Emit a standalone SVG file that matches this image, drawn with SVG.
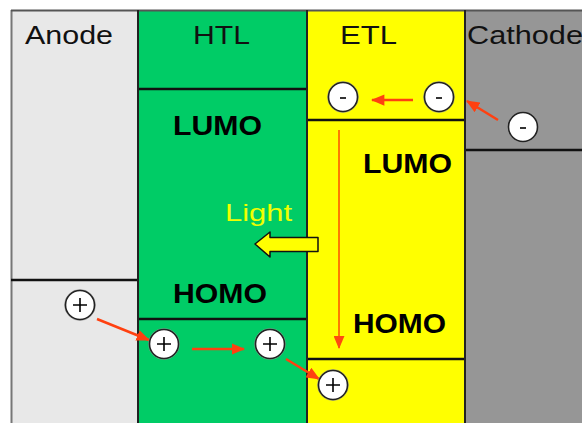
<svg xmlns="http://www.w3.org/2000/svg" width="582" height="423" viewBox="0 0 582 423">
<defs>
<style>
.lbl{font-family:"Liberation Sans",Arial,sans-serif;font-size:26px;fill:#111}
.lvl{font-family:"Liberation Sans",Arial,sans-serif;font-size:27px;font-weight:bold;fill:#000}
.light{font-family:"Liberation Sans",Arial,sans-serif;font-size:24px;fill:#f0ff00}
.div{stroke:#111;stroke-width:2.5}
.vdiv{stroke:#222;stroke-width:2}
.car{fill:#fff;stroke:#222;stroke-width:1.6}
.halo{fill:none;stroke:#999;stroke-width:1;opacity:0.7}
.sign{stroke:#000;stroke-width:1.6;fill:none}
.arr{stroke:#ff4010;stroke-width:2.5;fill:none;marker-end:url(#ah)}
.varr{stroke:#ff7a00;stroke-width:2;fill:none;marker-end:url(#ah2)}
</style>
<marker id="ah" viewBox="0 0 12 10" refX="11" refY="5" markerWidth="5.5" markerHeight="4.5" markerUnits="strokeWidth" orient="auto">
<path d="M0,0 L12,5 L0,10 z" fill="#ff4010"/>
</marker>
<marker id="ah2" viewBox="0 0 12 10" refX="11" refY="5" markerWidth="7" markerHeight="5.5" markerUnits="strokeWidth" orient="auto">
<path d="M0,0 L12,5 L0,10 z" fill="#ff4a10"/>
</marker>
</defs>
<rect width="582" height="423" fill="#fff"/>

<g id="anode">
<rect x="11" y="10" width="127" height="413" fill="#e8e8e8"/>
<line x1="11.5" y1="10" x2="11.5" y2="423" stroke="#777" stroke-width="2"/>
<line class="div" x1="11" y1="280" x2="138" y2="280"/>
<text class="lbl" x="25" y="44" textLength="88" lengthAdjust="spacingAndGlyphs">Anode</text>
</g>

<g id="htl">
<rect x="138" y="10" width="169" height="413" fill="#00cc66"/>
<line class="div" x1="138" y1="89" x2="307" y2="89"/>
<line class="div" x1="138" y1="319" x2="307" y2="319"/>
<text class="lbl" x="193" y="44" textLength="57" lengthAdjust="spacingAndGlyphs">HTL</text>
<text class="lvl" x="173" y="135" textLength="89" lengthAdjust="spacingAndGlyphs">LUMO</text>
<text class="lvl" x="173" y="303" textLength="94" lengthAdjust="spacingAndGlyphs">HOMO</text>
</g>

<g id="etl">
<rect x="307" y="10" width="158" height="413" fill="#ffff00"/>
<line class="div" x1="307" y1="120" x2="465" y2="120"/>
<line class="div" x1="307" y1="359" x2="465" y2="359"/>
<text class="lbl" x="340" y="44" textLength="57" lengthAdjust="spacingAndGlyphs">ETL</text>
<text class="lvl" x="363" y="173" textLength="89" lengthAdjust="spacingAndGlyphs">LUMO</text>
<text class="lvl" x="353" y="333" textLength="93" lengthAdjust="spacingAndGlyphs">HOMO</text>
</g>

<g id="cathode">
<rect x="465" y="10" width="117" height="413" fill="#969696"/>
<line class="div" x1="465" y1="150" x2="582" y2="150"/>
<text class="lbl" x="467" y="44" textLength="116" lengthAdjust="spacingAndGlyphs">Cathode</text>
</g>

<g id="borders">
<line x1="11" y1="10.5" x2="582" y2="10.5" stroke="#555" stroke-width="2"/>
<line class="vdiv" x1="138" y1="10" x2="138" y2="423" stroke="#444"/>
<line class="vdiv" x1="307" y1="10" x2="307" y2="423"/>
<line class="vdiv" x1="465" y1="10" x2="465" y2="423"/>
</g>

<g id="light">
<text class="light" x="225" y="221" textLength="67" lengthAdjust="spacingAndGlyphs">Light</text>
<path d="M255,244 L270,232 L270,237.5 L318,237.5 L318,251.5 L270,251.5 L270,257 Z" fill="#ffff00" stroke="#111" stroke-width="1.5" stroke-linejoin="round"/>
</g>

<g id="connectors">
<line class="arr" x1="413" y1="100" x2="372" y2="100"/>
<line class="arr" x1="498" y1="120" x2="467" y2="101"/>
<line class="varr" x1="339" y1="130" x2="339" y2="348"/>
<line class="arr" x1="97" y1="319" x2="149" y2="340"/>
<line class="arr" x1="192" y1="349" x2="244" y2="349"/>
<line class="arr" x1="286" y1="359" x2="319" y2="379"/>
</g>

<g id="e1"><circle class="halo" cx="343" cy="97" r="15.5"/><circle class="car" cx="343" cy="97" r="14.5"/><line class="sign" x1="340" y1="98" x2="346" y2="98"/></g>
<g id="e2"><circle class="halo" cx="439" cy="97" r="15.5"/><circle class="car" cx="439" cy="97" r="14.5"/><line class="sign" x1="436" y1="98" x2="442" y2="98"/></g>
<g id="e3"><circle class="halo" cx="523" cy="127" r="15.5"/><circle class="car" cx="523" cy="127" r="14.5"/><line class="sign" x1="520" y1="128" x2="526" y2="128"/></g>

<g id="h1"><circle class="halo" cx="80" cy="305" r="15.5"/><circle class="car" cx="80" cy="305" r="14.5"/><path class="sign" d="M73,305 H87 M80,298 V312"/></g>
<g id="h2"><circle class="halo" cx="164" cy="344" r="15.5"/><circle class="car" cx="164" cy="344" r="14.5"/><path class="sign" d="M157,344 H171 M164,337 V351"/></g>
<g id="h3"><circle class="halo" cx="270" cy="344" r="15.5"/><circle class="car" cx="270" cy="344" r="14.5"/><path class="sign" d="M263,344 H277 M270,337 V351"/></g>
<g id="h4"><circle class="halo" cx="333" cy="385" r="15.5"/><circle class="car" cx="333" cy="385" r="14.5"/><path class="sign" d="M326,385 H340 M333,378 V392"/></g>
</svg>
